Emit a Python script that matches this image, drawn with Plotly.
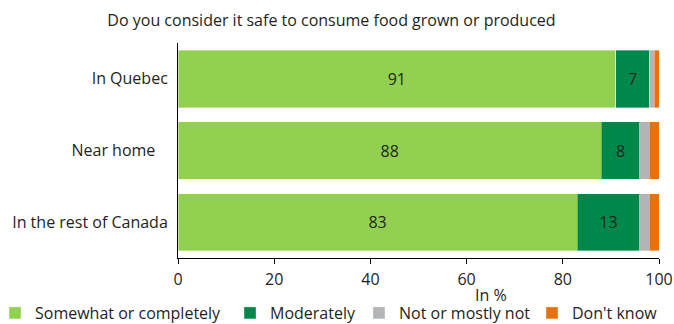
import plotly.graph_objects as go

categories = ["In Quebec", "Near home\u00a0\u00a0\u00a0", "In the rest of Canada"]
series_names = ["Somewhat or completely", "Moderately", "Not or mostly not", "Don't know"]
somewhat = [91, 88, 83]
moderately = [7, 8, 13]
not_mostly = [1, 2, 2]
dont_know = [1, 2, 2]
tick_values = [0, 20, 40, 60, 80, 100]

colors = ["#92d050", "#00884a", "#b3b4b6", "#e8710f"]
legend_ids = ["legend", "legend2", "legend3", "legend4"]
legend_left_px = [-5, 230, 359, 532]
legend_entry_w = [200, 100, 145, 0]
FONT = "Open Sans"
TXT = "#231f20"
FS = 16

# plot area in pixels
L, R, T, B = 178, 15, 43, 66
W, H = 674, 324
PW, PH = W - L - R, H - T - B

fig = go.Figure()
for name, vals, col, show, lid in zip(series_names,
                                      [somewhat, moderately, not_mostly, dont_know],
                                      colors, [True, True, False, False], legend_ids):
    fig.add_trace(go.Bar(
        y=categories, x=vals, name=name, orientation="h", legend=lid,
        marker=dict(color=col, line=dict(color="rgba(255,255,255,0.6)", width=0.6)),
        text=vals if show else None,
        texttemplate="%{x}" if show else None,
        textposition="inside" if show else "none",
        insidetextanchor="middle",
        textfont=dict(family=FONT, size=FS, color=TXT),
        constraintext="none",
        hoverinfo="x+name",
    ))

legend_layout = {}
for lid, lx, ew in zip(legend_ids, legend_left_px, legend_entry_w):
    legend_layout[lid] = dict(
        orientation="h", xref="paper", yref="paper",
        x=(lx - L) / PW, xanchor="left",
        y=((H - B) - 313) / PH, yanchor="middle",
        bgcolor="rgba(0,0,0,0)",
        font=dict(family=FONT, size=FS, color=TXT),
        itemwidth=30, entrywidth=ew,
    )

fig.update_layout(
    width=W, height=H,
    margin=dict(l=L, r=R, t=T, b=B, autoexpand=False),
    barmode="stack", bargap=0.2,
    plot_bgcolor="white", paper_bgcolor="white",
    font=dict(family=FONT, size=FS, color=TXT),
    title=dict(text="Do you consider it safe to consume food grown or produced",
               x=331.5 / W, xref="container", xanchor="center",
               y=1 - 20 / H, yref="container", yanchor="middle",
               font=dict(family=FONT, size=FS, color=TXT)),
    showlegend=True,
    xaxis=dict(range=[0, 100], tickvals=tick_values, showgrid=False, zeroline=False,
               showline=True, linecolor="#000", linewidth=1,
               ticks="outside", ticklen=5, tickcolor="#000", ticklabelstandoff=2,
               automargin=False,
               tickfont=dict(family=FONT, size=FS, color=TXT)),
    yaxis=dict(autorange="reversed", showline=True, linecolor="#000", linewidth=1,
               ticks="", showgrid=False, ticklabelstandoff=6, automargin=False,
               tickfont=dict(family=FONT, size=FS, color=TXT)),
    annotations=[dict(text="In %", xref="paper", yref="paper", x=(491 - L) / PW,
                      y=((H - B) - 295) / PH,
                      xanchor="center", yanchor="middle", showarrow=False,
                      font=dict(family=FONT, size=FS, color=TXT))],
    **legend_layout,
)

fig.write_html("out.html")
